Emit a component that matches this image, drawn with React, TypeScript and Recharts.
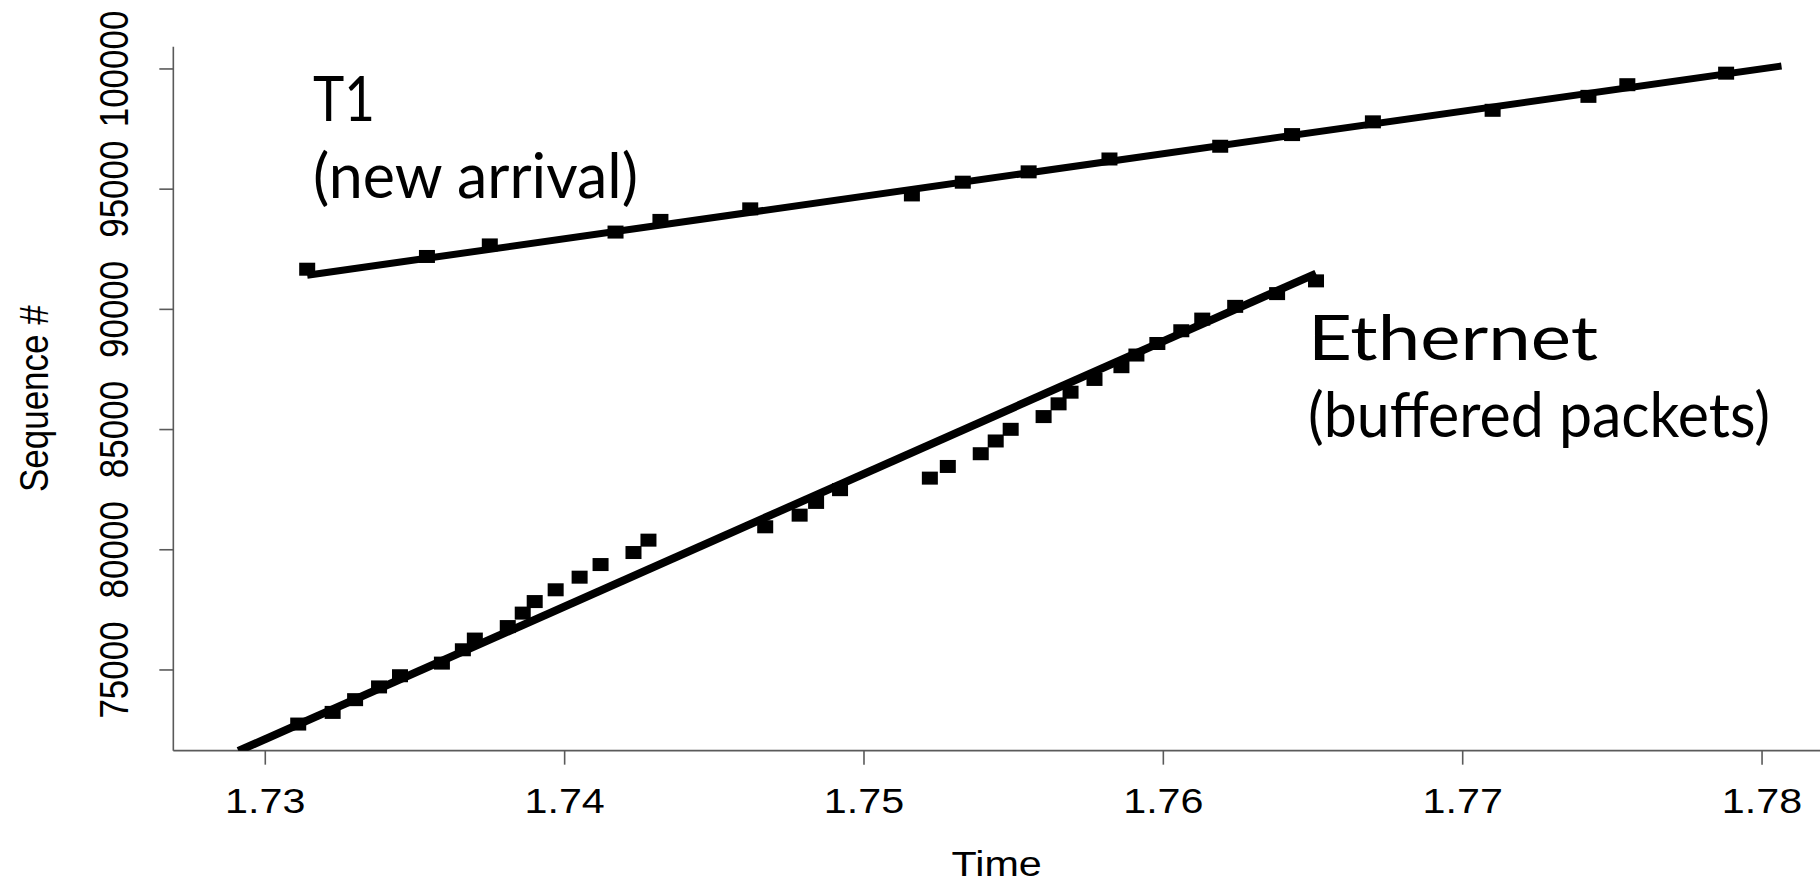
import React from 'react';
import { ComposedChart, Scatter, XAxis, YAxis } from 'recharts';

// T1 (new arrival) packets
const t1Time = [1.7314, 1.7354, 1.7375, 1.7417, 1.7432, 1.7462, 1.7516, 1.7533, 1.7555, 1.7582, 1.7619, 1.7643, 1.767, 1.771, 1.7742, 1.7755, 1.7788];
const t1Seq = [91670, 92200, 92680, 93215, 93700, 94180, 94760, 95290, 95720, 96255, 96785, 97270, 97800, 98280, 98860, 99345, 99825];

// Ethernet (buffered packets)
const ethTime = [1.7311, 1.73225, 1.733, 1.7338, 1.7345, 1.7359, 1.7366, 1.737, 1.7381, 1.7386, 1.739, 1.7397, 1.7405, 1.7412, 1.7423, 1.7428, 1.7467, 1.74785, 1.7484, 1.7492, 1.7522, 1.7528, 1.7539, 1.7544, 1.7549, 1.756, 1.7565, 1.7569, 1.7577, 1.7586, 1.7591, 1.7598, 1.7606, 1.7613, 1.7624, 1.7638, 1.7651];
const ethSeq = [72750, 73235, 73765, 74295, 74760, 75285, 75840, 76285, 76805, 77365, 77845, 78335, 78860, 79385, 79885, 80400, 80955, 81440, 81970, 82500, 82980, 83465, 83995, 84525, 85010, 85540, 86070, 86555, 87085, 87615, 88100, 88580, 89110, 89595, 90125, 90655, 91185];

// fitted lines
const t1FitTime = [1.7314, 1.78065];
const t1FitSeq = [91420, 100125];
const ethFitTime = [1.7291, 1.7651];
const ethFitSeq = [71630, 91490];

const xTicks = [1.73, 1.74, 1.75, 1.76, 1.77, 1.78];
const yTicks = [75000, 80000, 85000, 90000, 95000, 100000];
const xDomain = [1.726928, 1.781936];
const yDomain = [71643, 100927];

const toPoints = (ts: number[], ss: number[]) => ts.map((t, i) => ({ t, s: ss[i] }));
const t1Data = toPoints(t1Time, t1Seq);
const ethData = toPoints(ethTime, ethSeq);
const t1Fit = toPoints(t1FitTime, t1FitSeq);
const ethFit = toPoints(ethFitTime, ethFitSeq);

const AXIS_FONT = '"Liberation Sans", Arial, Helvetica, sans-serif';
const NOTE_FONT = 'Lato, "Open Sans", sans-serif';
const FRAME = '#5a5a5a';
const STRETCH = 1.18;

const XTick = (props: any) => {
  const { x, y, payload } = props;
  return (
    <text
      transform={`translate(${x},${y + 48.6}) scale(${STRETCH},1)`}
      textAnchor="middle"
      fontFamily={AXIS_FONT}
      fontSize={35}
      fill="#000"
    >
      {Number(payload.value).toFixed(2)}
    </text>
  );
};

const YTick = (props: any) => {
  const { x, y, payload } = props;
  return (
    <text
      transform={`translate(${x - 31},${y}) scale(${STRETCH},1) rotate(-90)`}
      textAnchor="middle"
      fontFamily={AXIS_FONT}
      fontSize={35}
      fill="#000"
    >
      {String(payload.value)}
    </text>
  );
};

const Square = (props: any) => {
  const { cx, cy } = props;
  if (cx == null || cy == null) return <g />;
  return <rect x={cx - 8} y={cy - 6.5} width={16} height={13} fill="#000" />;
};

const NoShape = () => <g />;

const XLabel = (props: any) => {
  const vb = props.viewBox || { x: 173.33, y: 750.67, width: 1646.67, height: 132.33 };
  const cx = vb.x + vb.width / 2;
  return (
    <text
      transform={`translate(${cx},${vb.y + 125}) scale(${STRETCH},1)`}
      textAnchor="middle"
      fontFamily={AXIS_FONT}
      fontSize={35}
      fill="#000"
    >
      Time
    </text>
  );
};

const YLabel = (props: any) => {
  const vb = props.viewBox || { x: 0, y: 46.67, width: 173.33, height: 704 };
  const cy = vb.y + vb.height / 2;
  return (
    <text
      transform={`translate(${vb.x + 48},${cy}) scale(${STRETCH},1) rotate(-90)`}
      textAnchor="middle"
      fontFamily={AXIS_FONT}
      fontSize={35}
      fill="#000"
    >
      Sequence #
    </text>
  );
};

export default function App() {
  return (
    <div style={{ position: 'absolute', left: 0, top: 0, width: 1820, height: 883, background: '#fff' }}>
      <ComposedChart
        width={1820}
        height={883}
        margin={{ top: 46.67, right: 0, bottom: 0, left: 0 }}
      >
        <XAxis
          xAxisId={0}
          dataKey="t"
          type="number"
          domain={xDomain}
          ticks={xTicks}
          allowDataOverflow
          height={132.33}
          tickSize={14}
          tickMargin={0}
          axisLine={{ stroke: FRAME, strokeWidth: 1.6 }}
          tickLine={{ stroke: FRAME, strokeWidth: 1.6 }}
          tick={<XTick />}
          interval={0}
          label={<XLabel />}
        />
        <XAxis
          xAxisId="top"
          orientation="top"
          dataKey="t"
          type="number"
          domain={xDomain}
          allowDataOverflow
          height={0}
          tick={false}
          tickLine={false}
          axisLine={{ stroke: FRAME, strokeWidth: 1.6 }}
        />
        <YAxis
          yAxisId={0}
          dataKey="s"
          type="number"
          domain={yDomain}
          ticks={yTicks}
          allowDataOverflow
          width={173.33}
          tickSize={14}
          tickMargin={0}
          axisLine={{ stroke: FRAME, strokeWidth: 1.6 }}
          tickLine={{ stroke: FRAME, strokeWidth: 1.6 }}
          tick={<YTick />}
          interval={0}
          label={<YLabel />}
        />
        <Scatter
          name="T1"
          data={t1Data}
          xAxisId={0}
          yAxisId={0}
          dataKey="s"
          shape={<Square />}
          isAnimationActive={false}
        />
        <Scatter
          name="Ethernet"
          data={ethData}
          xAxisId={0}
          yAxisId={0}
          dataKey="s"
          shape={<Square />}
          isAnimationActive={false}
        />
        <Scatter
          name="T1 fit"
          data={t1Fit}
          xAxisId={0}
          yAxisId={0}
          dataKey="s"
          line={{ stroke: '#000', strokeWidth: 7 }}
          shape={<NoShape />}
          isAnimationActive={false}
        />
        <Scatter
          name="Ethernet fit"
          data={ethFit}
          xAxisId={0}
          yAxisId={0}
          dataKey="s"
          line={{ stroke: '#000', strokeWidth: 8 }}
          shape={<NoShape />}
          isAnimationActive={false}
        />
      </ComposedChart>
      <svg
        width={1820}
        height={883}
        style={{ position: 'absolute', left: 0, top: 0, pointerEvents: 'none' }}
      >
        <g fontFamily={NOTE_FONT} fontSize={62} fill="#000">
          <text x={313} y={121} textLength={62} lengthAdjust="spacingAndGlyphs">T1</text>
          <text x={313} y={198} textLength={325} lengthAdjust="spacingAndGlyphs">(new arrival)</text>
          <text x={1308} y={360} textLength={290} lengthAdjust="spacingAndGlyphs">Ethernet</text>
          <text x={1308} y={437} textLength={462} lengthAdjust="spacingAndGlyphs">(buffered packets)</text>
        </g>
      </svg>
    </div>
  );
}
